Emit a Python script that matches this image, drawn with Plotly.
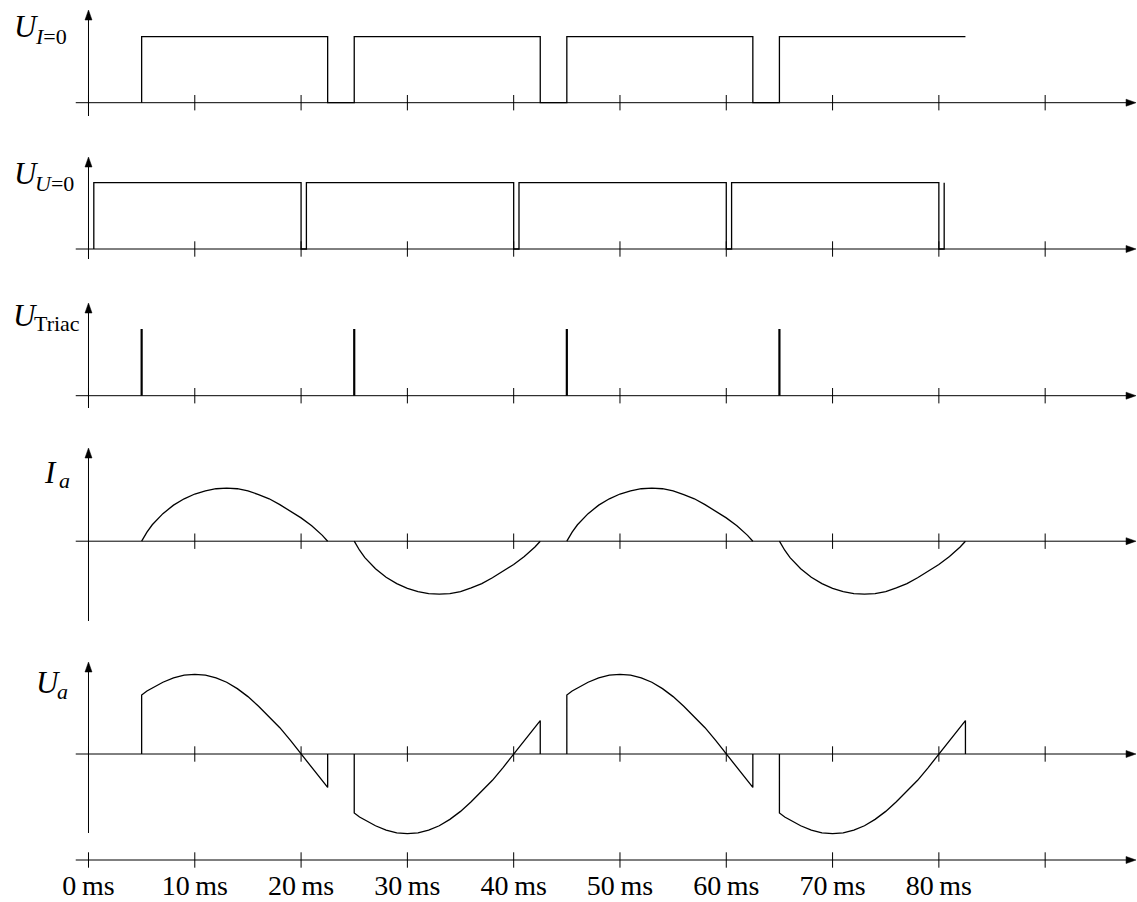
import plotly.graph_objects as go

W, H = 1137, 902

# ---------------- data (time in ms, levels normalised) ----------------
tick_ms = [0, 10, 20, 30, 40, 50, 60, 70, 80, 90]
label_ms = [0, 10, 20, 30, 40, 50, 60, 70, 80]
tick_labels = ["0\u2009ms", "10\u2009ms", "20\u2009ms", "30\u2009ms", "40\u2009ms",
               "50\u2009ms", "60\u2009ms", "70\u2009ms", "80\u2009ms"]

# U_{I=0}: current-zero detector
ui0_t = [5, 5, 22.5, 22.5, 25, 25, 42.5, 42.5, 45, 45, 62.5, 62.5, 65, 65, 82.5]
ui0_v = [0, 1, 1, 0, 0, 1, 1, 0, 0, 1, 1, 0, 0, 1, 1]

# U_{U=0}: voltage-zero detector
uu0_t = [0.5, 0.5, 20, 20, 20.5, 20.5, 40, 40, 40.5, 40.5, 60, 60, 60.5, 60.5, 80, 80, 80.5, 80.5]
uu0_v = [0, 1, 1, 0, 0, 1, 1, 0, 0, 1, 1, 0, 0, 1, 1, 0, 0, 1]

# U_Triac: trigger pulses
triac_t = [5, 25, 45, 65]
triac_v = [1, 1, 1, 1]

# conduction lobes (firing instants, polarity, shape over the lobe)
lobe_start = [5, 25, 45, 65]
lobe_sign = [1, -1, 1, -1]
lobe_dt = [0, 0.5, 1, 2, 3, 4, 5, 6, 7, 8, 9, 10, 11, 12, 13, 14, 15, 16, 17, 17.5]
ia_lobe = [0, 0.17, 0.31, 0.52, 0.68, 0.80, 0.89, 0.95, 0.99, 1.00,
           0.99, 0.95, 0.88, 0.80, 0.69, 0.57, 0.44, 0.29, 0.11, 0]
ua_lobe = [0.74, 0.79, 0.83, 0.90, 0.955, 0.99, 1.00, 0.99, 0.955, 0.90,
           0.82, 0.72, 0.60, 0.47, 0.33, 0.17, 0.0, -0.17, -0.34, -0.42]

# axis labels: (main symbol, subscript)
ylabel_main = ["<i>U</i>", "<i>U</i>", "<i>U</i>", "<i>I</i>", "<i>U</i>"]
ylabel_sub = ["<i>I</i>=0", "<i>U</i>=0", "Triac", "<i>a</i>", "<i>a</i>"]

# ---------------- layout helpers ----------------
FONT = "Liberation Serif"
BLACK = "#000000"
X0, X1 = -8.325, 98.64          # x range so that 0 ms sits at ~88 px
MS_PER_PX = (X1 - X0) / W
AX_START, AX_END = -1.2, 98.55   # horizontal axis extent (ms)
HEAD_LEN, HEAD_HW = 10.0, 3.5    # arrow head size in px

# (baseline px, px per unit, top px, bottom px, vertical-axis bottom px, vertical-axis tip px)
panels = [
    (102.7, 66.0, 2, 125, 116, 10),
    (249.0, 66.3, 150, 270, 259, 157),
    (395.7, 66.7, 296, 415, 408, 303),
    (541.2, 53.0, 440, 630, 621, 448),
    (754.0, 79.7, 655, 842, 833, 662),
    (860.0, 1.0, 845, 902, None, None),
]
# label placement: (main right edge px, subscript left edge px, main centre y px, sub centre y px)
label_pos = [(40, 34, 27, 36), (40, 34, 174, 183), (39, 33, 315, 324),
             (58, 58, 472, 481), (62, 56, 682, 691)]


def val(i, px):
    base, ppu = panels[i][0], panels[i][1]
    return (base - px) / ppu


fig = go.Figure()
layout_axes = {}
axis_line = dict(color=BLACK, width=1)

for i, (base, ppu, top, bot, vb, vt) in enumerate(panels):
    name = "yaxis" if i == 0 else f"yaxis{i + 1}"
    layout_axes[name] = dict(domain=[1 - bot / H, 1 - top / H],
                             range=[val(i, bot), val(i, top)],
                             visible=False, anchor="x", fixedrange=True)
    yref = "y" if i == 0 else f"y{i + 1}"
    # horizontal axis line + arrow head
    hl = HEAD_LEN * MS_PER_PX
    fig.add_trace(go.Scatter(x=[AX_START, AX_END - hl * 0.5], y=[0, 0], yaxis=yref,
                             mode="lines", line=axis_line, hoverinfo="skip"))
    fig.add_trace(go.Scatter(x=[AX_END, AX_END - hl, AX_END - hl, AX_END],
                             y=[0, HEAD_HW / ppu, -HEAD_HW / ppu, 0], yaxis=yref,
                             mode="lines", fill="toself", fillcolor=BLACK,
                             line=dict(color=BLACK, width=0.5), hoverinfo="skip"))
    # vertical axis line + arrow head
    if vb is not None:
        hw = HEAD_HW * MS_PER_PX
        fig.add_trace(go.Scatter(x=[0, 0], y=[val(i, vb), val(i, vt + HEAD_LEN * 0.5)],
                                 yaxis=yref, mode="lines", line=axis_line, hoverinfo="skip"))
        fig.add_trace(go.Scatter(x=[0, -hw, hw, 0],
                                 y=[val(i, vt), val(i, vt + HEAD_LEN), val(i, vt + HEAD_LEN), val(i, vt)],
                                 yaxis=yref, mode="lines", fill="toself", fillcolor=BLACK,
                                 line=dict(color=BLACK, width=0.5), hoverinfo="skip"))
    # ticks
    fig.add_trace(go.Scatter(x=tick_ms, y=[0] * len(tick_ms), yaxis=yref, mode="markers",
                             marker=dict(symbol="line-ns", size=11,
                                         line=dict(width=1, color=BLACK)),
                             hoverinfo="skip"))

line = dict(color=BLACK, width=1.3)

# U_{I=0}
fig.add_trace(go.Scatter(x=ui0_t, y=ui0_v, yaxis="y", mode="lines", line=line))
# U_{U=0}
fig.add_trace(go.Scatter(x=uu0_t, y=uu0_v, yaxis="y2", mode="lines", line=line))
# U_Triac
for t, v in zip(triac_t, triac_v):
    fig.add_trace(go.Scatter(x=[t, t], y=[0, v], yaxis="y3", mode="lines",
                             line=dict(color=BLACK, width=2.2)))
# I_a and U_a lobes
for s, sg in zip(lobe_start, lobe_sign):
    xs = [s + d for d in lobe_dt]
    fig.add_trace(go.Scatter(x=xs, y=[sg * v for v in ia_lobe], yaxis="y4", mode="lines",
                             line=line))
    fig.add_trace(go.Scatter(x=[s] + xs + [s + lobe_dt[-1]],
                             y=[0] + [sg * v for v in ua_lobe] + [0],
                             yaxis="y5", mode="lines", line=line))

# time tick labels
fig.add_trace(go.Scatter(x=label_ms, y=[val(5, 888)] * len(label_ms), yaxis="y6", mode="text",
                         text=tick_labels, textposition="middle center",
                         textfont=dict(family=FONT, size=28, color=BLACK),
                         hoverinfo="skip"))

# y labels (main symbol + subscript as separate texts)
annotations = []
for main, sub, (mx, sx, my, sy) in zip(ylabel_main, ylabel_sub, label_pos):
    annotations.append(dict(x=mx / W, y=1 - my / H, xref="paper", yref="paper",
                            xanchor="right", yanchor="middle", text=main, showarrow=False,
                            borderpad=0, font=dict(family=FONT, size=31, color=BLACK)))
    annotations.append(dict(x=sx / W, y=1 - sy / H, xref="paper", yref="paper",
                            xanchor="left", yanchor="middle", text=sub, showarrow=False,
                            borderpad=0, font=dict(family=FONT, size=22, color=BLACK)))

fig.update_layout(
    width=W, height=H,
    margin=dict(l=0, r=0, t=0, b=0),
    paper_bgcolor="white", plot_bgcolor="white",
    xaxis=dict(range=[X0, X1], visible=False, fixedrange=True, domain=[0, 1]),
    annotations=annotations,
    showlegend=False,
    **layout_axes,
)

fig.write_html("out.html", config={"displayModeBar": False},
               post_script="document.body.style.margin='0px';")
